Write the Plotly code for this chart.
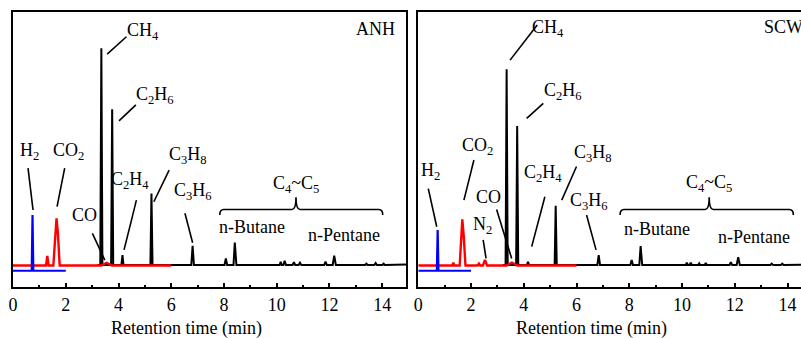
import plotly.graph_objects as go

# ---------------- data (retention time, min ; detector signal, a.u.) ----------------
# ANH panel
anh_hc_t = [3.20, 3.31, 3.35, 3.39, 3.72, 3.76, 3.80, 4.11, 4.15, 4.19, 5.21, 5.25, 5.29,
            6.76, 6.81, 6.86, 8.02, 8.07, 8.12, 8.36, 8.41, 8.47, 10.11, 10.15, 10.19,
            10.25, 10.30, 10.35, 10.60, 10.65, 10.70, 10.83, 10.88, 10.93, 11.80, 11.85, 11.90,
            12.12, 12.18, 12.24, 13.35, 13.40, 13.45, 13.70, 13.75, 13.80, 14.00, 14.05, 14.10, 15.0]
anh_hc_s = [8.0, 8.0, 86.8, 8.0, 8.0, 64.6, 8.0, 8.0, 11.6, 8.0, 8.0, 34.0, 8.0,
            8.0, 15.0, 8.0, 8.0, 10.4, 8.0, 8.0, 16.2, 8.0, 8.0, 9.2, 8.0,
            8.0, 9.5, 8.0, 8.0, 9.0, 8.0, 8.0, 8.8, 8.0, 8.0, 9.2, 8.0,
            8.0, 11.4, 8.0, 8.0, 8.5, 8.0, 8.0, 8.7, 8.0, 8.0, 8.5, 8.0, 8.2]
anh_tcd_t = [0.0, 1.25, 1.30, 1.35, 1.53, 1.60, 1.65, 1.70, 1.77, 3.35, 3.55, 3.75, 6.0]
anh_tcd_s = [7.8, 7.8, 11.3, 7.8, 7.8, 20.0, 25.0, 20.0, 7.8, 7.8, 8.8, 7.8, 7.8]
anh_h2_t = [0.0, 0.71, 0.74, 0.77, 2.0]
anh_h2_s = [5.9, 5.9, 26.2, 5.9, 5.9]

# SCW panel
scw_hc_t = [3.20, 3.31, 3.35, 3.39, 3.71, 3.75, 3.79, 4.12, 4.16, 4.20, 5.17, 5.21, 5.25,
            6.79, 6.84, 6.89, 8.04, 8.09, 8.14, 8.38, 8.43, 8.49, 10.14, 10.18, 10.22,
            10.29, 10.33, 10.37, 10.61, 10.65, 10.69, 10.86, 10.90, 10.94, 11.80, 11.85, 11.90,
            12.07, 12.13, 12.19, 13.35, 13.40, 13.45, 13.75, 13.80, 13.85, 15.0]
scw_hc_s = [8.0, 8.0, 79.2, 8.0, 8.0, 58.5, 8.0, 8.0, 9.2, 8.0, 8.0, 29.5, 8.0,
            8.0, 11.6, 8.0, 8.0, 9.8, 8.0, 8.0, 14.9, 8.0, 8.0, 8.9, 8.0,
            8.0, 8.9, 8.0, 8.0, 8.6, 8.0, 8.0, 8.7, 8.0, 8.0, 9.0, 8.0,
            8.0, 10.8, 8.0, 8.0, 8.5, 8.0, 8.0, 8.5, 8.0, 8.1]
scw_tcd_t = [0.0, 1.29, 1.33, 1.37, 1.57, 1.62, 1.67, 1.72, 1.79, 2.25, 2.30, 2.35,
             2.45, 2.53, 2.61, 3.35, 3.55, 3.75, 6.0]
scw_tcd_s = [7.8, 7.8, 8.8, 7.8, 7.8, 19.0, 24.6, 19.0, 7.8, 7.8, 8.5, 7.8,
             7.8, 9.8, 7.8, 7.8, 8.9, 7.8, 7.8]
scw_h2_t = [0.0, 0.705, 0.735, 0.765, 2.0]
scw_h2_s = [5.9, 5.9, 20.7, 5.9, 5.9]

x_ticks = [0, 2, 4, 6, 8, 10, 12, 14]
x_title = "Retention time (min)"

# peak labels: (text, x, y) and leader lines (x0, y0, x1, y1)
anh_labels = [("H<sub>2</sub>", 0.63, 49.2), ("CO<sub>2</sub>", 2.09, 49.2), ("CO", 2.72, 26.2),
              ("CH<sub>4</sub>", 4.93, 92.8), ("C<sub>2</sub>H<sub>6</sub>", 5.38, 69.8),
              ("C<sub>2</sub>H<sub>4</sub>", 4.43, 38.9), ("C<sub>3</sub>H<sub>8</sub>", 6.64, 48.0),
              ("C<sub>3</sub>H<sub>6</sub>", 6.81, 34.7), ("C<sub>4</sub>~C<sub>5</sub>", 10.73, 37.1),
              ("n-Butane", 9.08, 21.9), ("n-Pentane", 12.55, 18.9)]
anh_leaders = [(0.57, 43.2, 0.76, 28.0), (1.96, 43.2, 1.67, 29.2), (3.01, 19.5, 3.48, 9.8),
               (4.30, 91.0, 3.57, 84.7), (4.66, 66.2, 4.02, 60.4), (4.68, 31.6, 4.21, 13.5),
               (5.92, 42.5, 5.34, 31.0), (6.52, 26.8, 6.81, 16.1)]
anh_brace = (7.84, 10.73, 14.02)

scw_labels = [("H<sub>2</sub>", 0.47, 41.9), ("CO<sub>2</sub>", 2.24, 51.0), ("N<sub>2</sub>", 2.44, 22.5),
              ("CO", 2.65, 32.8), ("CH<sub>4</sub>", 4.93, 94.0), ("C<sub>2</sub>H<sub>6</sub>", 5.47, 71.0),
              ("C<sub>2</sub>H<sub>4</sub>", 4.72, 41.3), ("C<sub>3</sub>H<sub>8</sub>", 6.63, 48.6),
              ("C<sub>3</sub>H<sub>6</sub>", 6.48, 31.0), ("C<sub>4</sub>~C<sub>5</sub>", 11.03, 37.7),
              ("n-Butane", 9.06, 21.0), ("n-Pentane", 12.73, 18.3)]
scw_leaders = [(0.38, 35.8, 0.70, 21.9), (2.11, 46.2, 1.73, 31.6), (2.46, 17.1, 2.57, 10.4),
               (2.97, 28.2, 3.54, 10.4), (4.51, 95.3, 3.48, 82.5), (4.74, 66.8, 4.11, 61.3),
               (4.80, 32.8, 4.30, 14.7), (6.00, 43.8, 5.44, 31.6), (6.38, 26.2, 6.74, 13.5)]
scw_brace = (7.65, 11.03, 14.22)

FONT = "Liberation Serif"
RED = "#ff0000"
BLUE = "#0000ff"

fig = go.Figure()
for t, s, col, w, xa, ya in [
    (anh_hc_t, anh_hc_s, "black", 2, "x", "y"),
    (anh_tcd_t, anh_tcd_s, RED, 2.4, "x", "y"),
    (anh_h2_t, anh_h2_s, BLUE, 2.2, "x", "y"),
    (scw_hc_t, scw_hc_s, "black", 2, "x2", "y2"),
    (scw_tcd_t, scw_tcd_s, RED, 2.4, "x2", "y2"),
    (scw_h2_t, scw_h2_s, BLUE, 2.2, "x2", "y2"),
]:
    fig.add_trace(go.Scatter(x=t, y=s, mode="lines", line=dict(color=col, width=w),
                             xaxis=xa, yaxis=ya, showlegend=False, hoverinfo="skip"))

annotations = []
shapes = []


def brace_path(x0, xm, x1, ylo=26.2, ymid=28.2, ytip=32.6, r=0.15):
    return (f"M {x0},{ylo} Q {x0},{ymid} {x0 + r},{ymid} L {xm - r},{ymid} "
            f"Q {xm},{ymid} {xm},{ytip} Q {xm},{ymid} {xm + r},{ymid} "
            f"L {x1 - r},{ymid} Q {x1},{ymid} {x1},{ylo}")


for labels, leaders, brace, xr, yr in [(anh_labels, anh_leaders, anh_brace, "x", "y"),
                                         (scw_labels, scw_leaders, scw_brace, "x2", "y2")]:
    for txt, x, y in labels:
        annotations.append(dict(text=txt, x=x, y=y, xref=xr, yref=yr, showarrow=False,
                                font=dict(family=FONT, size=18, color="black"),
                                xanchor="center", yanchor="middle"))
    for x0, y0, x1, y1 in leaders:
        shapes.append(dict(type="line", x0=x0, y0=y0, x1=x1, y1=y1, xref=xr, yref=yr,
                           line=dict(color="black", width=1.6)))
    shapes.append(dict(type="path", path=brace_path(*brace), xref=xr, yref=yr,
                       line=dict(color="black", width=1.6)))
    # axis title
    annotations.append(dict(text=x_title, x=6.58, y=0, xref=xr, yref="paper", yshift=-41,
                            showarrow=False, font=dict(family=FONT, size=18, color="black"),
                            xanchor="center", yanchor="middle"))

annotations.append(dict(text="ANH", x=14.55, y=94.0, xref="x", yref="y", showarrow=False,
                        font=dict(family=FONT, size=18, color="black"),
                        xanchor="right", yanchor="middle"))
annotations.append(dict(text="SCW", x=13.02, y=94.7, xref="x2", yref="y2", showarrow=False,
                        font=dict(family=FONT, size=18, color="black"),
                        xanchor="left", yanchor="middle"))

xcommon = dict(tickvals=x_ticks, ticks="inside", ticklen=4, tickwidth=1.5, tickcolor="black",
               minor=dict(ticks="inside", dtick=1, tick0=0, ticklen=2.5, tickwidth=1.5, tickcolor="black"),
               showline=True, linewidth=2, linecolor="black", mirror=True,
               showgrid=False, zeroline=False, automargin=False,
               tickfont=dict(family=FONT, size=18, color="black"))
ycommon = dict(range=[0, 100], showticklabels=False, ticks="", showgrid=False, zeroline=False,
               showline=True, linewidth=2, linecolor="black", automargin=False)

fig.update_layout(
    width=801, height=338,
    margin=dict(l=13, r=0, t=12, b=51, autoexpand=False),
    paper_bgcolor="white", plot_bgcolor="white",
    xaxis=dict(domain=[0, 0.4987], range=[0, 14.9], anchor="y", **xcommon),
    yaxis=dict(domain=[0, 1], anchor="x", mirror=True, **ycommon),
    xaxis2=dict(domain=[0.5143, 1.0], range=[0, 14.51], anchor="y2", **xcommon),
    yaxis2=dict(domain=[0, 1], anchor="x2", mirror=False, **ycommon),
    annotations=annotations, shapes=shapes,
)

fig.write_html("out.html", config={"displayModeBar": False},
               post_script="document.body.style.margin='0';document.body.style.overflow='hidden';")
